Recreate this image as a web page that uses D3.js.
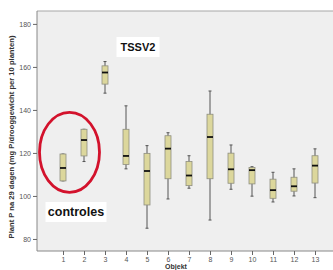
<!DOCTYPE html>
<html>
<head>
<meta charset="utf-8">
<script src="https://cdn.jsdelivr.net/npm/d3@7"></script>
<style>
  body { margin: 0; background: #fff; }
  svg { display: block; font-family: "Liberation Sans", Arial, sans-serif; }
</style>
</head>
<body>
<div id="chart"></div>
<script>
// boxplot values per object
const objects = [1, 2, 3, 4, 5, 6, 7, 8, 9, 10, 11, 12, 13];
const whiskerLow = [107, 116, 147.8, 112.6, 85, 98.6, 103.6, 88.8, 103.1, 99.9, 97.2, 100, 99.2];
const q1 = [107, 118.6, 152, 114.6, 95.8, 108, 104.8, 108, 105.9, 105.6, 98.9, 102.2, 106];
const medians = [113, 126, 157.4, 118.6, 111.6, 122, 109.5, 127.4, 112.4, 112, 102.7, 104.5, 114.1];
const q3 = [119.5, 131, 160.5, 131, 119.8, 128, 116, 138, 119.9, 113.2, 107.8, 108.7, 118.7];
const whiskerHigh = [119.5, 131, 162.5, 141.9, 123.4, 129.4, 118.7, 148.8, 123.7, 113.6, 111, 112.6, 121.9];
const yTicks = [80, 100, 120, 140, 160, 180];

const W = 333, H = 270;
const margin = { top: 11, right: -3, bottom: 19, left: 37 };
const width = W - margin.left - margin.right;
const height = H - margin.top - margin.bottom;

const svg = d3.select("#chart").append("svg")
  .attr("width", W).attr("height", H);

const g = svg.append("g")
  .attr("transform", "translate(" + margin.left + "," + margin.top + ")");

// plot background
g.append("rect")
  .attr("width", width).attr("height", height)
  .attr("fill", "#efefef");
g.append("line")
  .attr("x1", 0).attr("x2", width).attr("y1", 0).attr("y2", 0)
  .attr("stroke", "#a8a8a8").attr("stroke-width", 1.2);

let x = d3.scaleLinear().domain([0, 14]).range([5, 5 + 21 * 14]);
let y = d3.scaleLinear().domain([74.4, 186]).range([height, 0]);

// axes
const yAxis = d3.axisLeft(y).tickValues(yTicks).tickSize(4).tickPadding(2);
const xAxis = d3.axisBottom(x).tickValues(objects).tickSize(4).tickPadding(2)
  .tickFormat(d3.format("d"));

const yg = g.append("g").call(yAxis);
const xg = g.append("g").attr("transform", "translate(0," + height + ")").call(xAxis);
[yg, xg].forEach((a) => {
  a.selectAll("path").attr("stroke", "#888");
  a.selectAll("line").attr("stroke", "#666");
  a.selectAll("text").attr("fill", "#555").style("font-size", "7px");
});
yg.select(".domain").attr("d", "M0," + height + "V0");
xg.select(".domain").attr("d", "M0,0H" + width);

// boxes
const bw = 6;
objects.forEach((o, i) => {
  const cx = x(o);
  const box = g.append("g");
  box.append("line")
    .attr("x1", cx).attr("x2", cx)
    .attr("y1", y(whiskerLow[i])).attr("y2", y(whiskerHigh[i]))
    .attr("stroke", "#555").attr("stroke-width", 1);
  [whiskerLow[i], whiskerHigh[i]].forEach((v) => {
    box.append("line")
      .attr("x1", cx - 1.5).attr("x2", cx + 1.5)
      .attr("y1", y(v)).attr("y2", y(v))
      .attr("stroke", "#555").attr("stroke-width", 1);
  });
  box.append("rect")
    .attr("x", cx - bw / 2).attr("width", bw)
    .attr("y", y(q3[i])).attr("height", y(q1[i]) - y(q3[i]))
    .attr("fill", "#dcd79c").attr("stroke", "#8f8f80").attr("stroke-width", 0.8);
  box.append("line")
    .attr("x1", cx - bw / 2).attr("x2", cx + bw / 2)
    .attr("y1", y(medians[i])).attr("y2", y(medians[i]))
    .attr("stroke", "#111").attr("stroke-width", 1.8);
});

// red ellipse round the controls
g.append("ellipse")
  .attr("cx", (x(1) + x(2)) / 2 - 4).attr("cy", y(120.3))
  .attr("rx", 30).attr("ry", 40)
  .attr("fill", "none").attr("stroke", "#d3122c").attr("stroke-width", 2.8);

// annotations
function note(label, cx, cy, w, h, size) {
  g.append("rect")
    .attr("x", cx - w / 2).attr("y", cy - h / 2)
    .attr("width", w).attr("height", h).attr("fill", "#fff");
  g.append("text")
    .attr("x", cx).attr("y", cy).attr("dy", "0.35em")
    .attr("text-anchor", "middle")
    .style("font-size", size + "px").style("font-weight", "bold")
    .attr("fill", "#111").text(label);
}
note("TSSV2", 138 - margin.left, 47 - margin.top, 43, 20, 11);
note("controles", 76 - margin.left, 212 - margin.top, 61, 20, 12.5);

// axis titles
svg.append("text")
  .attr("transform", "translate(14," + (margin.top + height / 2 + 6) + ") rotate(-90)")
  .attr("text-anchor", "middle")
  .style("font-size", "7.6px").style("font-weight", "bold")
  .attr("fill", "#333")
  .text("Plant P na 29 dagen (mg P/drooggewicht per 10 planten)");

svg.append("text")
  .attr("x", 176).attr("y", 268.5)
  .attr("text-anchor", "middle")
  .style("font-size", "7px").style("font-weight", "bold")
  .attr("fill", "#333")
  .text("Objekt");
</script>
</body>
</html>
